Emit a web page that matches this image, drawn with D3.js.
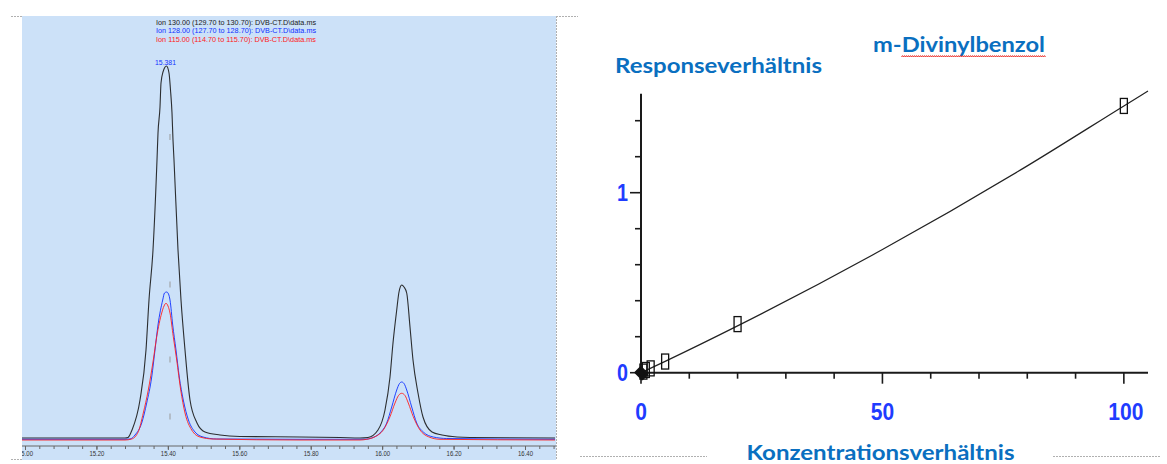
<!DOCTYPE html>
<html>
<head>
<meta charset="utf-8">
<script src="https://cdn.jsdelivr.net/npm/d3@7/dist/d3.min.js"></script>
<style>
body{margin:0;background:#fff;}
svg{display:block;}
</style>
</head>
<body>
<svg id="chart"></svg>
<script>
var W = 1167, H = 464;

// chromatogram: [retention time (min), abundance]
var ion130 = [[14.9916,2],[15.28,2],[15.2884,2.5],[15.2996,10],[15.322,40],[15.3388,90],[15.3472,140],[15.3584,190],
	[15.3696,280],[15.3724,307],[15.378,333],[15.3808,357],[15.3864,368],[15.3962,374],[15.4032,367],[15.4074,350],
	[15.4116,327],[15.4144,300],[15.4172,280],[15.4284,190],[15.4368,140],[15.448,90],[15.462,40],[15.4816,17],
	[15.504,8],[15.546,5],[15.602,3.5],[15.77,3],[15.882,2.5],[15.938,2],[15.9604,2.5],[15.9884,10],[16.008,30],
	[16.022,63],[16.0304,97],[16.0408,130],[16.0472,148],[16.0548,155],[16.0612,153],[16.0688,147],[16.078,113],
	[16.0864,80],[16.1004,47],[16.1144,23],[16.1396,8],[16.1676,5],[16.2096,3],[16.246,2.5],[16.484,2]];
var ion128 = [[14.9916,0.7],[15.28,0.7],[15.294,1],[15.308,5],[15.3268,17],[15.3408,37],[15.3548,63],[15.364,90],
	[15.3724,115],[15.3856,140],[15.3906,147],[15.3968,148],[15.4018,146],[15.406,140],[15.4136,115],[15.4228,90],
	[15.432,63],[15.4432,40],[15.4576,20],[15.476,8],[15.4984,3],[15.5368,1],[15.77,0.7],[15.952,0.7],[15.9708,2],
	[15.994,7],[16.0128,17],[16.0268,33],[16.0408,50],[16.0486,56.5],[16.0548,58],[16.0612,56.5],[16.0688,50],
	[16.0828,33],[16.0968,17],[16.1152,8],[16.1432,3],[16.1808,1.5],[16.484,0.7]];
var ion115 = [[14.9916,0],[15.28,0],[15.2988,1],[15.3172,8.3],[15.3312,27],[15.3452,50],[15.3592,80],[15.3688,103.3],
	[15.3828,127],[15.3892,134],[15.3948,136.7],[15.4004,134],[15.406,127],[15.4152,103.3],[15.4248,80],[15.436,50],
	[15.448,27],[15.4668,10],[15.49,3],[15.5264,1],[15.77,0],[15.938,0],[15.9568,0.7],[15.98,3.3],[16.0032,10],
	[16.022,23.3],[16.036,37],[16.0458,44.5],[16.0548,46.7],[16.064,44.5],[16.0732,37],[16.0872,23.3],[16.106,10],
	[16.1292,3.3],[16.162,0.7],[16.484,0]];
var ionLabels = ["Ion 130.00 (129.70 to 130.70): DVB-CT.D\\data.ms",
	"Ion 128.00 (127.70 to 128.70): DVB-CT.D\\data.ms",
	"Ion 115.00 (114.70 to 115.70): DVB-CT.D\\data.ms"];
var peakLabel = "15.381";
var peakMarks = [303, 155.5, 80.5, 23.5];
var timeTicks = [15.0, 15.2, 15.4, 15.6, 15.8, 16.0, 16.2, 16.4];

// calibration: concentration ratio vs response ratio
var concRatio = [0, 0.5, 1, 2, 5, 20, 100];
var respRatio = [0, 0.006, 0.015, 0.024, 0.062, 0.27, 1.482];
var fitConc = [0, 5, 20, 50, 80, 100, 105];
var fitResp = [0, 0.063, 0.26, 0.684, 1.149, 1.482, 1.565];
var concMajor = [0, 50, 100], concMinor = [10, 20, 30, 40, 60, 70, 80, 90];
var respMajor = [0, 1], respMinor = [0.2, 0.4, 0.6, 0.8, 1.2, 1.4];

var ionColors = ["#1a1a1a", "#1030ff", "#ff2020"];
var narrow = "'Liberation Sans Narrow','Liberation Sans',Arial,sans-serif";
var office = "Lato,'Open Sans',sans-serif";
var titleBlue = "#0a6fc0", tickBlue = "#1f3cff";

var svg = d3.select("#chart").attr("width", W).attr("height", H);

// frame pieces (slide borders)
var frame = svg.append("g")
	.style("stroke", "#b0b0b0").style("stroke-width", 1).style("stroke-dasharray", "2,1");
[[11,16.5,22,16.5],[11,459.5,22,459.5],[556.5,16,556.5,460],[556,16.5,578,16.5],
 [580,456.5,707,456.5],[1053,456.5,1160,456.5]].forEach(function(l){
	frame.append("line").attr("x1", l[0]).attr("y1", l[1]).attr("x2", l[2]).attr("y2", l[3]);
});

// ---------- left: chromatogram ----------
var left = svg.append("g").attr("class", "chromatogram");
left.append("rect")
	.attr("x", 22).attr("y", 16).attr("width", 534).attr("height", 444)
	.style("fill", "#cce1f8");

left.append("clipPath").attr("id", "chromClip")
	.append("rect").attr("x", 22).attr("y", 16).attr("width", 534).attr("height", 444);
var clipped = left.append("g").attr("clip-path", "url(#chromClip)");

var xC = d3.scaleLinear().domain([14.9916, 16.484]).range([22, 555]);
var yC = d3.scaleLinear().domain([0, 424]).range([440, 16]);

// time axis: minor ticks every 0.04 min, labelled ticks every 0.2 min
var axisG = clipped.append("g").attr("transform", "translate(0,446)");
axisG.call(d3.axisBottom(xC).tickValues(d3.range(15.0, 16.5, 0.04)).tickSize(3).tickFormat(""));
axisG.select(".domain").remove();
axisG.append("line").attr("x1", 22).attr("x2", 556).style("stroke", "#666").style("stroke-width", 1);
axisG.selectAll(".tick line").style("stroke", "#666");
var majorG = clipped.append("g")
	.attr("transform", "translate(0,446)")
	.call(d3.axisBottom(xC).tickValues(timeTicks).tickSize(4).tickFormat(d3.format(".2f")));
majorG.select(".domain").remove();
majorG.selectAll(".tick line").style("stroke", "#666");
majorG.selectAll(".tick text")
	.attr("y", 5).attr("dy", "0.71em")
	.style("font-family", narrow).style("font-size", "7.5px").style("fill", "#333")
	.attr("textLength", 15).attr("lengthAdjust", "spacingAndGlyphs");

var traceLine = d3.line()
	.x(function(d){ return xC(d[0]); })
	.y(function(d){ return yC(d[1]); })
	.curve(d3.curveMonotoneX);

[ion130, ion128, ion115].forEach(function(tr, i){
	clipped.append("path")
		.datum(tr)
		.attr("d", traceLine)
		.style("fill", "none")
		.style("stroke", ionColors[i])
		.style("stroke-width", i == 0 ? 1.1 : 1)
		.style("stroke-opacity", 0.9);
});

// small retention markers
var apex = d3.greatest(ion130.filter(function(d){ return d[0] < 15.7; }), function(d){ return d[1]; });
clipped.selectAll(".mark")
	.data(peakMarks)
	.enter().append("line")
	.attr("class", "mark")
	.attr("x1", xC(15.406)).attr("x2", xC(15.406))
	.attr("y1", function(d){ return yC(d) - 3; })
	.attr("y2", function(d){ return yC(d) + 3; })
	.style("stroke", "#999").style("stroke-width", 1);

left.append("text")
	.attr("x", xC(apex[0]) - 1).attr("y", 64.5)
	.attr("text-anchor", "middle")
	.attr("textLength", 21).attr("lengthAdjust", "spacingAndGlyphs")
	.style("font-family", narrow).style("font-size", "8px").style("fill", "#1030ff")
	.text(peakLabel);

left.selectAll(".ion-label")
	.data(ionLabels)
	.enter().append("text")
	.attr("class", "ion-label")
	.attr("x", 156)
	.attr("y", function(d, i){ return 24.5 + i * 8.8; })
	.attr("textLength", 160).attr("lengthAdjust", "spacingAndGlyphs")
	.style("font-family", narrow).style("font-size", "8px")
	.style("fill", function(d, i){ return ionColors[i]; })
	.text(function(d){ return d; });

// ---------- right: calibration curve ----------
var right = svg.append("g").attr("class", "calibration");
var xK = d3.scaleLinear().domain([0, 105]).range([641, 1148]);
var yK = d3.scaleLinear().domain([0, 1.55]).range([372.7, 93.7]);

right.append("line")
	.attr("x1", xK(0)).attr("x2", xK(0)).attr("y1", yK(1.55)).attr("y2", yK(0) + 5)
	.style("stroke", "#1a1a1a").style("stroke-width", 2);
right.append("line")
	.attr("x1", xK(0) - 2).attr("x2", xK(105)).attr("y1", yK(0)).attr("y2", yK(0))
	.style("stroke", "#1a1a1a").style("stroke-width", 2);

// x ticks (down), y ticks (left)
right.selectAll(".xt")
	.data(concMajor.concat(concMinor))
	.enter().append("line")
	.attr("class", "xt")
	.attr("x1", function(d){ return xK(d); }).attr("x2", function(d){ return xK(d); })
	.attr("y1", yK(0))
	.attr("y2", function(d){ return yK(0) + (concMajor.indexOf(d) >= 0 ? 11 : 6); })
	.style("stroke", "#1a1a1a").style("stroke-width", 1.6);
right.selectAll(".yt")
	.data(respMajor.concat(respMinor))
	.enter().append("line")
	.attr("class", "yt")
	.attr("y1", function(d){ return yK(d); }).attr("y2", function(d){ return yK(d); })
	.attr("x1", xK(0))
	.attr("x2", function(d){ return xK(0) - (respMajor.indexOf(d) >= 0 ? 11 : 6); })
	.style("stroke", "#1a1a1a").style("stroke-width", 1.6);

right.selectAll(".xl")
	.data(concMajor)
	.enter().append("text")
	.attr("class", "xl")
	.attr("x", function(d){ return xK(d) + (d == 100 ? 2 : 0); })
	.attr("y", 420)
	.attr("text-anchor", "middle")
	.attr("textLength", function(d){ return String(d).length * 11.7; })
	.attr("lengthAdjust", "spacingAndGlyphs")
	.style("font-family", "'Liberation Sans',Arial,sans-serif").style("font-weight", "bold")
	.style("font-size", "23px").style("fill", tickBlue)
	.text(function(d){ return d; });
right.selectAll(".yl")
	.data(respMajor)
	.enter().append("text")
	.attr("class", "yl")
	.attr("x", 622.5)
	.attr("y", function(d){ return yK(d) + 8.3; })
	.attr("text-anchor", "middle")
	.attr("textLength", 11).attr("lengthAdjust", "spacingAndGlyphs")
	.style("font-family", "'Liberation Sans',Arial,sans-serif").style("font-weight", "bold")
	.style("font-size", "23px").style("fill", tickBlue)
	.text(function(d){ return d; });

// fitted curve
var fitLine = d3.line()
	.x(function(d, i){ return xK(fitConc[i]); })
	.y(function(d, i){ return yK(fitResp[i]); })
	.curve(d3.curveMonotoneX);
right.append("path")
	.datum(fitConc)
	.attr("d", fitLine)
	.style("fill", "none").style("stroke", "#222").style("stroke-width", 1.2);

// calibration points (the zero point is drawn as a filled blob)
var pts = concRatio.map(function(c, i){ return {c: c, r: respRatio[i]}; });
right.selectAll(".pt")
	.data(pts.filter(function(d){ return d.c > 0; }))
	.enter().append("rect")
	.attr("class", "pt")
	.attr("x", function(d){ return xK(d.c) - 3.5; })
	.attr("y", function(d){ return yK(d.r) - 7.5; })
	.attr("width", 7).attr("height", 15)
	.style("fill", "none").style("stroke", "#111").style("stroke-width", 1.3);
right.selectAll(".pt0")
	.data(pts.filter(function(d){ return d.c == 0; }))
	.enter().append("path")
	.attr("class", "pt0")
	.attr("d", d3.symbol(d3.symbolSquare, 60))
	.attr("transform", function(d){ return "translate(" + (xK(d.c) + 0.5) + "," + (yK(d.r) + 0.5) + ") rotate(45) scale(1.15,0.95)"; })
	.style("fill", "#111").style("stroke", "#111").style("stroke-width", 2.5)
	.style("stroke-linejoin", "round");

// titles
var titles = [
	{t: "m-Divinylbenzol", x: 873, y: 52, w: 172},
	{t: "Responseverhältnis", x: 615, y: 73, w: 207},
	{t: "Konzentrationsverhältnis", x: 746.5, y: 460, w: 268}
];
right.selectAll(".ttl")
	.data(titles)
	.enter().append("text")
	.attr("class", "ttl")
	.attr("x", function(d){ return d.x; })
	.attr("y", function(d){ return d.y; })
	.attr("textLength", function(d){ return d.w; })
	.attr("lengthAdjust", "spacingAndGlyphs")
	.style("font-family", office).style("font-weight", "bold")
	.style("font-size", "21px").style("fill", titleBlue)
	.text(function(d){ return d.t; });

// spell-check squiggle under "Divinylbenzol"
var sq = "M901.5,57";
for (var x = 901.5; x < 1045; x += 2) {
	sq += " L" + (x + 1) + "," + 55.6 + " L" + (x + 2) + "," + 57;
}
right.append("path").attr("d", sq)
	.style("fill", "none").style("stroke", "#e8201a").style("stroke-width", 0.9);
</script>
</body>
</html>
